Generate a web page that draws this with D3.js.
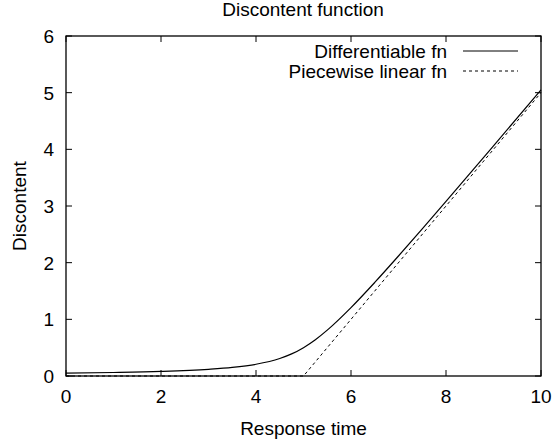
<!DOCTYPE html>
<html><head><meta charset="utf-8">
<script src="https://cdn.jsdelivr.net/npm/d3@7"></script>
<style>
body{margin:0;background:#fff;}
text{font-family:"Liberation Sans",Arial,Helvetica,sans-serif;fill:#000;}
</style></head>
<body><svg id="c" width="552" height="444"></svg>
<script>
// Data
const smoothX = [0, 1, 2, 3, 3.5, 4, 4.5, 4.75, 5, 5.25, 5.5, 6, 6.5, 7, 7.5, 8, 9, 10];
const smoothY = [0.05, 0.062, 0.081, 0.118, 0.151, 0.207, 0.309, 0.39, 0.5, 0.64, 0.809, 1.207, 1.651, 2.118, 2.596, 3.081, 4.062, 5.05];
const linearX = [0, 5, 10];
const linearY = [0, 0, 5];
const xTicks = [0, 2, 4, 6, 8, 10];
const yTicks = [0, 1, 2, 3, 4, 5, 6];
const seriesNames = ["Differentiable fn", "Piecewise linear fn"];

const svg = d3.select("#c");
const L = 66, R = 541, T = 36, B = 376;
const x = d3.scaleLinear().domain([0, 10]).range([L, R]);
const y = d3.scaleLinear().domain([0, 6]).range([B, T]);
const tl = 6;
const fs = 19;

// ticks (inward, mirrored)
const g = svg.append("g").attr("stroke", "#000").attr("stroke-width", 1);
xTicks.forEach(v => {
  g.append("line").attr("x1", x(v)).attr("x2", x(v)).attr("y1", B).attr("y2", B - tl);
  g.append("line").attr("x1", x(v)).attr("x2", x(v)).attr("y1", T).attr("y2", T + tl);
});
yTicks.forEach(v => {
  g.append("line").attr("y1", y(v)).attr("y2", y(v)).attr("x1", L).attr("x2", L + tl);
  g.append("line").attr("y1", y(v)).attr("y2", y(v)).attr("x1", R).attr("x2", R - tl);
});
xTicks.forEach(v => svg.append("text").attr("x", x(v)).attr("y", B + 27)
  .attr("text-anchor", "middle").attr("font-size", fs).text(v));
yTicks.forEach(v => svg.append("text").attr("x", L - 12).attr("y", y(v) + 7)
  .attr("text-anchor", "end").attr("font-size", fs).text(v));

// curves
const line = d3.line().x(d => x(d[0])).y(d => y(d[1]));
svg.append("path").datum(linearX.map((v, i) => [v, linearY[i]]))
  .attr("d", line).attr("fill", "none").attr("stroke", "#000").attr("stroke-width", 1)
  .attr("stroke-dasharray", "3,3");
svg.append("path").datum(smoothX.map((v, i) => [v, smoothY[i]]))
  .attr("d", line.curve(d3.curveMonotoneX)).attr("fill", "none").attr("stroke", "#000").attr("stroke-width", 1.2);

// frame
svg.append("rect").attr("x", L).attr("y", T).attr("width", R - L).attr("height", B - T)
  .attr("fill", "none").attr("stroke", "#000").attr("stroke-width", 1.3);

// legend
const lg = [[51, null], [71, "3,3"]];
seriesNames.forEach((n, i) => {
  svg.append("text").attr("x", 447).attr("y", lg[i][0] + 7).attr("text-anchor", "end")
    .attr("font-size", fs).text(n);
  const ln = svg.append("line").attr("x1", 463).attr("x2", 518).attr("y1", lg[i][0]).attr("y2", lg[i][0])
    .attr("stroke", "#000").attr("stroke-width", 1);
  if (lg[i][1]) ln.attr("stroke-dasharray", lg[i][1]);
});

// titles
svg.append("text").attr("x", 303).attr("y", 16).attr("text-anchor", "middle").attr("font-size", 19).text("Discontent function");
svg.append("text").attr("x", 303.5).attr("y", 435).attr("text-anchor", "middle").attr("font-size", fs).text("Response time");
svg.append("text").attr("transform", "translate(26,206) rotate(-90)").attr("text-anchor", "middle").attr("font-size", fs).text("Discontent");
</script></body></html>
